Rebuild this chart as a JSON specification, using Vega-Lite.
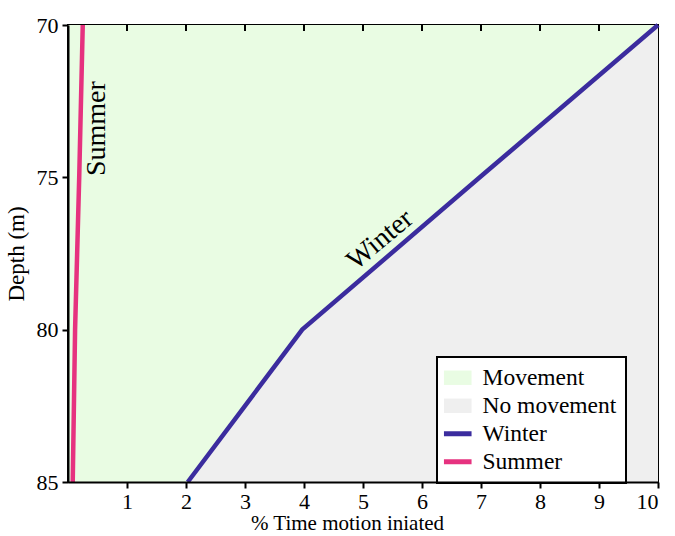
{
  "$schema": "https://vega.github.io/schema/vega-lite/v6.json",
  "width": 590,
  "height": 457,
  "autosize": {"type": "none"},
  "padding": {"left": 68, "top": 25, "right": 17, "bottom": 54},
  "background": "white",
  "config": {
    "font": "Liberation Serif",
    "view": {"stroke": "black", "strokeWidth": 2},
    "axis": {"labelFont": "Liberation Serif", "titleFont": "Liberation Serif", "labelColor": "black", "titleColor": "black", "domainColor": "black", "tickColor": "black", "grid": false, "titleFontWeight": "normal", "labelFontSize": 22, "tickSize": 6, "tickWidth": 2, "domainWidth": 2},
    "axisX": {"titleFontSize": 21, "labelPadding": 3, "titlePadding": 0},
    "axisY": {"titleFontSize": 23, "labelPadding": 4, "titlePadding": 8},
    "legend": {"labelFont": "Liberation Serif"}
  },
  "datasets": {
    "lines": [
      {"series": "Winter", "depth": 70, "pct": 10},
      {"series": "Winter", "depth": 75, "pct": 6.98},
      {"series": "Winter", "depth": 80, "pct": 3.97},
      {"series": "Winter", "depth": 82.5, "pct": 3.0},
      {"series": "Winter", "depth": 85, "pct": 2.03},
      {"series": "Summer", "depth": 70, "pct": 0.25},
      {"series": "Summer", "depth": 75, "pct": 0.19},
      {"series": "Summer", "depth": 80, "pct": 0.12},
      {"series": "Summer", "depth": 85, "pct": 0.08}
    ],
    "regions": [
      {"series": "Movement", "pct": 0, "depth": 85, "edge": 70},
      {"series": "Movement", "pct": 2.03, "depth": 85, "edge": 70},
      {"series": "Movement", "pct": 3.0, "depth": 82.5, "edge": 70},
      {"series": "Movement", "pct": 3.97, "depth": 80, "edge": 70},
      {"series": "Movement", "pct": 6.98, "depth": 75, "edge": 70},
      {"series": "Movement", "pct": 10, "depth": 70, "edge": 70},
      {"series": "No movement", "pct": 2.03, "depth": 85, "edge": 85},
      {"series": "No movement", "pct": 3.0, "depth": 82.5, "edge": 85},
      {"series": "No movement", "pct": 3.97, "depth": 80, "edge": 85},
      {"series": "No movement", "pct": 6.98, "depth": 75, "edge": 85},
      {"series": "No movement", "pct": 10, "depth": 70, "edge": 85}
    ],
    "topticks": [
      {"pct": 1, "from": 70, "to": 70.2},
      {"pct": 2, "from": 70, "to": 70.2},
      {"pct": 3, "from": 70, "to": 70.2},
      {"pct": 4, "from": 70, "to": 70.2},
      {"pct": 5, "from": 70, "to": 70.2},
      {"pct": 6, "from": 70, "to": 70.2},
      {"pct": 7, "from": 70, "to": 70.2},
      {"pct": 8, "from": 70, "to": 70.2},
      {"pct": 9, "from": 70, "to": 70.2}
    ]
  },
  "resolve": {"scale": {"x": "independent"}},
  "layer": [
    {
      "data": {"name": "regions"},
      "mark": {"type": "area", "opacity": 1},
      "encoding": {
        "x": {"field": "pct", "type": "quantitative", "scale": {"domain": [0, 10], "nice": false}, "axis": null},
        "y": {"field": "depth", "type": "quantitative", "stack": null},
        "y2": {"field": "edge"},
        "color": {"field": "series", "type": "nominal"}
      }
    },
    {
      "data": {"name": "lines"},
      "mark": {"type": "line", "strokeWidth": 4.5},
      "encoding": {
        "y": {
          "field": "depth", "type": "quantitative",
          "scale": {"domain": [70, 85], "reverse": true, "nice": false, "zero": false},
          "axis": {"title": "Depth (m)", "values": [70, 75, 80, 85], "zindex": 1}
        },
        "x": {
          "field": "pct", "type": "quantitative",
          "scale": {"domain": [0, 10], "nice": false},
          "axis": {"title": "% Time motion iniated", "values": [1, 2, 3, 4, 5, 6, 7, 8, 9, 10], "titleX": 279, "titleAlign": "center", "zindex": 1}
        },
        "order": {"field": "depth"},
        "color": {
          "field": "series", "type": "nominal",
          "scale": {"domain": ["Movement", "No movement", "Winter", "Summer"], "range": ["#e9fce3", "#efefef", "#3b2c9e", "#e6327f"]},
          "legend": {
            "title": null,
            "orient": "none",
            "legendX": 369,
            "legendY": 332,
            "fillColor": "white",
            "strokeColor": "black",
            "padding": 9,
            "symbolSize": 576,
            "rowPadding": 3,
            "labelOffset": 13,
            "labelFontSize": 23.5,
            "labelColor": "black",
            "encode": {
              "symbols": {
                "update": {
                  "shape": {"signal": "indexof(['Winter','Summer'], datum.value) >= 0 ? 'M-1.15,0H1.15' : 'M-1.15,-0.6H1.15V0.6H-1.15Z'"},
                  "fill": {"signal": "indexof(['Winter','Summer'], datum.value) >= 0 ? 'transparent' : scale('color', datum.value)"},
                  "stroke": {"signal": "indexof(['Winter','Summer'], datum.value) >= 0 ? scale('color', datum.value) : 'transparent'"},
                  "strokeWidth": {"signal": "indexof(['Winter','Summer'], datum.value) >= 0 ? 5 : 0"},
                  "opacity": {"value": 1}
                }
              },
              "legend": {"update": {"strokeWidth": {"value": 2}}}
            }
          }
        }
      }
    },
    {
      "data": {"name": "topticks"},
      "mark": {"type": "rule", "color": "black", "strokeWidth": 2},
      "encoding": {
        "x": {"field": "pct", "type": "quantitative", "scale": {"domain": [0, 10], "nice": false}, "axis": null},
        "y": {"field": "from", "type": "quantitative"},
        "y2": {"field": "to"}
      }
    },
    {
      "data": {"values": [{"label": "Summer", "pct": 0.49, "depth": 73.4}]},
      "mark": {"type": "text", "angle": 270, "fontSize": 28, "font": "Liberation Serif", "color": "black", "align": "center", "baseline": "middle"},
      "encoding": {
        "x": {"field": "pct", "type": "quantitative", "scale": {"domain": [0, 10], "nice": false}, "axis": null},
        "y": {"field": "depth", "type": "quantitative"},
        "text": {"field": "label"}
      }
    },
    {
      "data": {"values": [{"label": "Winter", "pct": 5.29, "depth": 77.06}]},
      "mark": {"type": "text", "angle": 320, "fontSize": 28, "font": "Liberation Serif", "color": "black", "align": "center", "baseline": "middle"},
      "encoding": {
        "x": {"field": "pct", "type": "quantitative", "scale": {"domain": [0, 10], "nice": false}, "axis": null},
        "y": {"field": "depth", "type": "quantitative"},
        "text": {"field": "label"}
      }
    }
  ]
}
